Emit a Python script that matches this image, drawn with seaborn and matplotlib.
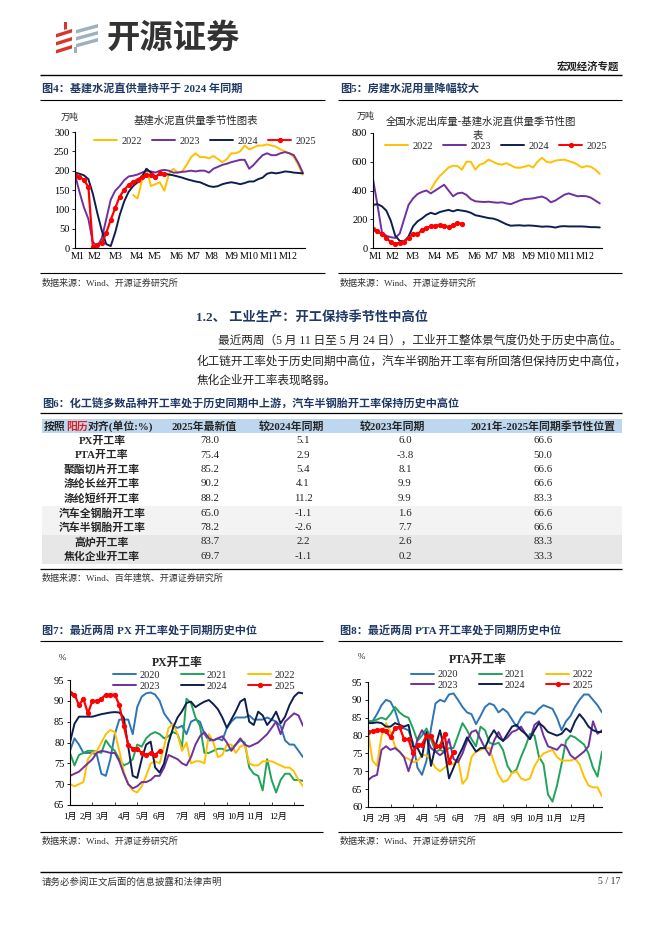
import numpy as np
import seaborn as sns
import matplotlib.pyplot as plt
from matplotlib.lines import Line2D
from matplotlib.patches import Rectangle, Polygon

# ---------------- data ----------------
# weekly series, week index starts at 0 (Jan) unless a start week is given
INFRA_2022_START = 13
INFRA_2022 = [137, 128, 175, 205, 160, 165, 170, 148, 190, 205, 195, 198, 215, 235, 245, 235, 235, 232, 238, 230,
              222, 230, 245, 245, 250, 265, 255, 260, 265, 265, 268, 265, 262, 255, 250, 245, 235, 215, 190]
INFRA_2023 = [190, 145, 105, 75, 15, 5, 25, 75, 125, 148, 160, 175, 185, 187, 190, 195, 200, 198, 195, 200,
              202, 200, 195, 195, 197, 198, 200, 198, 200, 200, 195, 205, 210, 215, 218, 222, 225, 228, 228, 205,
              215, 228, 240, 245, 240, 240, 245, 248, 245, 240, 220, 195]
INFRA_2024 = [195, 192, 188, 178, 140, 90, 45, 10, 5, 40, 85, 120, 145, 160, 170, 185, 205, 195, 185, 190,
              192, 190, 188, 185, 182, 178, 175, 172, 170, 165, 160, 158, 160, 165, 168, 170, 168, 165, 168, 172,
              172, 178, 182, 192, 195, 193, 195, 198, 197, 195, 194, 193]
INFRA_2025 = [188, 184, 176, 158, 2, 9, 13, 39, 73, 103, 133, 150, 163, 171, 177, 184, 189, 189, 184, 193, 191]

PROP_2022_START = 13
PROP_2022 = [405, 460, 500, 530, 560, 572, 570, 545, 600, 600, 545, 580, 590, 615, 600, 585, 580, 590, 575, 560,
             558, 565, 575, 560, 600, 628, 600, 595, 608, 612, 615, 605, 595, 580, 560, 570, 565, 545, 515]
PROP_2023 = [480, 300, 110, 85, 75, 70, 100, 200, 300, 345, 375, 390, 400, 380, 400, 420, 440, 400, 360, 380,
             385, 370, 340, 325, 322, 320, 322, 318, 315, 318, 310, 305, 318, 330, 340, 342, 345, 352, 358, 345,
             318, 330, 350, 370, 380, 370, 360, 362, 360, 350, 330, 310]
PROP_2024 = [300, 305, 290, 260, 190, 85, 50, 45, 80, 150, 185, 205, 230, 245, 235, 250, 258, 265, 255, 265,
             260, 255, 245, 228, 222, 215, 208, 205, 195, 180, 165, 155, 157, 158, 155, 157, 155, 152, 148, 150,
             148, 142, 150, 152, 150, 150, 150, 150, 148, 145, 145, 143]
PROP_2025 = [132, 118, 95, 70, 40, 28, 38, 45, 70, 100, 95, 125, 138, 150, 155, 160, 155, 145, 160, 172, 170]

PX_2020 = [78, 81, 79.5, 77.5, 77.5, 77.5, 77, 72.5, 72, 76, 82, 85.5, 85.5, 85.5, 82, 88.5, 91, 91.8, 92, 91.5,
           90, 87, 85.5, 84, 83.5, 84, 82, 85, 85.5, 85, 82, 80.5, 80.5, 81, 80.5, 83.5, 85, 86, 86, 86,
           86.5, 85.5, 85.5, 85.5, 86, 85.5, 85, 84, 80.5, 79.5, 79.5, 78, 76.5]
PX_2021 = [77.5, 74.5, 77, 77.5, 78, 78, 77.8, 77.5, 80.5, 79, 78, 76, 74.5, 75, 76, 79.5, 79, 81, 82, 82.5,
           82, 81, 81.5, 82.5, 82, 79, 90.5, 89.5, 86, 84, 77.5, 77.5, 78, 78.5, 78.5, 78, 78.5, 79.5, 80.5, 80,
           74, 72.5, 72, 68.5, 76, 71, 68, 71, 72.5, 72.5, 71, 71, 70.8]
PX_2022 = [70, 69.5, 70, 70.5, 76, 77.5, 78, 80, 82, 83, 82.5, 78, 73, 70, 68.5, 68, 69.5, 72, 75, 75.5,
           75, 79, 83.5, 84.5, 82, 78, 80, 75, 75.5, 75.5, 75, 82, 80, 76.5, 77, 79.5, 79.5, 77.5, 79, 79.5,
           75, 74.5, 74.5, 75.5, 75.5, 75.5, 75, 74.5, 74, 74, 73, 71, 69.5]
PX_2023 = [72, 72.5, 73, 74, 75, 76, 77.5, 78, 77.8, 77.5, 77.5, 75.5, 72.5, 70, 69, 69.5, 70.5, 70.5, 71, 72,
           72, 74, 77, 76.5, 76, 75, 74.5, 76.5, 79.5, 81.5, 82.5, 81, 80.5, 81, 81.5, 80, 78, 79.5, 81, 79.5,
           79, 79.5, 80, 81, 82, 83.5, 85, 82, 85, 86, 87, 86.5, 84]
PX_2024 = [80, 84.5, 86.2, 86.2, 86.2, 86.2, 86.5, 86.8, 87, 87.2, 87.3, 87.2, 86, 79, 72, 71.5, 76, 79.5, 80.2, 74,
           72.8, 75, 80, 83.5, 86, 87.5, 89.5, 89.8, 88.5, 89.2, 89.8, 90.2, 89.2, 88, 86, 83.5, 85.5, 87.5, 89.8, 90.5,
           85, 84.2, 87.4, 86.5, 84.2, 85.5, 87.4, 84.6, 86.2, 89, 91, 92, 91.8]
PX_2025 = [92, 91.5, 89, 90.5, 87, 90, 90, 90.5, 91.5, 91.5, 91.5, 89, 84, 79.5, 78.5, 78.5, 77.5, 77, 77.5, 77, 78]

PTA_2020 = [84, 84, 86, 88.5, 90, 89.5, 87, 83, 82, 81.5, 78, 71, 69, 73, 82, 89, 90, 89.5, 91.5, 91.8,
            90, 88, 86.5, 86, 83.2, 85.5, 88, 89, 88.5, 86.5, 87.5, 86.5, 84.5, 82.5, 85, 86.5, 86.5, 86, 87.5, 88.5,
            88, 87.5, 85, 81.5, 84, 85.5, 88, 90, 91.5, 91.5, 90, 88.5, 86.5]
PTA_2021 = [84, 84, 84.5, 85, 84.5, 86, 88, 86.5, 85.5, 85, 82, 78.5, 80, 82, 79, 75.5, 76, 75.5, 76.5, 76.5,
            80, 83.5, 81.5, 79, 77, 82.5, 81.5, 78, 77.5, 78, 76, 71.5, 69.5, 70.5, 74, 77, 80.5, 80, 74, 72,
            63.5, 61.5, 66, 72, 78.5, 80, 79.5, 78.5, 77.5, 75, 71, 68.5, 75.5]
PTA_2022 = [81, 73, 71.5, 80, 83.5, 81, 77, 75.5, 74, 73.5, 72.5, 73, 74.5, 74.5, 73, 71, 70, 71, 72, 72,
            73.5, 66.5, 68, 74, 75.5, 76, 76.5, 76.5, 72.5, 69, 67, 67.5, 69.5, 70, 68, 67.5, 68, 71.5, 73.5, 75,
            75.5, 76, 74, 73, 73, 73, 73.5, 72, 68.5, 66, 65.5, 65.5, 63]
PTA_2023 = [67.5, 68.5, 69, 76, 77, 76, 76.5, 75.5, 74, 70, 74, 79, 81.5, 79.5, 76.5, 75.5, 74.5, 75.5, 79, 73.5,
            72.5, 75, 78.5, 81, 81.5, 79, 76.5, 74.5, 78.5, 81, 78.5, 79.5, 81, 81.5, 82.5, 80.5, 79, 83, 84, 80,
            77, 76.5, 76, 77.5, 77, 74.5, 73.5, 74.5, 75.5, 77, 84, 80.5, 81.5]
PTA_2024 = [83.5, 83.5, 83.7, 83.5, 82.5, 82.5, 83.5, 83, 82.5, 83, 77, 76.5, 74, 81, 71.5, 77, 81.5, 76, 68, 71,
            74, 76.5, 79.5, 77.5, 75.5, 76.5, 76.5, 79.5, 81.5, 79.5, 78.5, 80.5, 82.5, 83, 81.5, 80.5, 79, 81.5, 83.5, 82.5,
            81, 80.5, 80, 80.5, 82, 81, 84, 86, 84.5, 82.5, 81.5, 81, 81]
PTA_2025 = [81, 81.3, 81.5, 81.7, 81.2, 79.5, 82, 82.5, 79, 79, 75, 77.5, 77.5, 80, 80, 77, 77, 80.5, 72.5, 75.5]

MONTHS_M = ['M1', 'M2', 'M3', 'M4', 'M5', 'M6', 'M7', 'M8', 'M9', 'M10', 'M11', 'M12']
MONTHS_CN = ['1月', '2月', '3月', '4月', '5月', '6月', '7月', '8月', '9月', '10月', '11月', '12月']

TABLE_ROWS = ['PX开工率', 'PTA开工率', '聚酯切片开工率', '涤纶长丝开工率', '涤纶短纤开工率',
              '汽车全钢胎开工率', '汽车半钢胎开工率', '高炉开工率', '焦化企业开工率']
LATEST = [78.0, 75.4, 85.2, 90.2, 88.2, 65.0, 78.2, 83.7, 69.7]
VS_2024 = [5.1, 2.9, 5.4, 4.1, 11.2, -1.1, -2.6, 2.2, -1.1]
VS_2023 = [6.0, -3.8, 8.1, 9.9, 9.9, 1.6, 7.7, 2.6, 0.2]
POSITION = [66.6, 50.0, 66.6, 66.6, 83.3, 66.6, 66.6, 83.3, 33.3]

# ---------------- style ----------------
sns.set_theme(style='white')
SERIF_CJK = ['Liberation Serif', 'Noto Sans CJK SC', 'DejaVu Sans']
CJK = ['Noto Sans CJK SC', 'DejaVu Sans']
plt.rcParams['font.family'] = SERIF_CJK
plt.rcParams['axes.unicode_minus'] = False

W, H = 662, 936
NAVY_TXT = '#1F3864'
C_GOLD = '#FFC000'
C_PURPLE = '#7030A0'
C_NAVY = '#0D1F4F'
C_RED = '#FF0000'
C_BLUE = '#2E75B6'
C_GREEN = '#22A35A'

fig = plt.figure(figsize=(W / 100, H / 100), dpi=100)
page = fig.add_axes([0, 0, 1, 1])
page.set_xlim(0, W)
page.set_ylim(H, 0)
page.axis('off')


def px_axes(x0, y0, x1, y1):
    return fig.add_axes([x0 / W, 1 - y1 / H, (x1 - x0) / W, (y1 - y0) / H])


def rule(x0, x1, y, lw=0.9, color='black'):
    page.plot([x0, x1], [y, y], color=color, lw=lw, solid_capstyle='butt')


def txt(x, y, s, size=8, **kw):
    kw.setdefault('va', 'center')
    kw.setdefault('family', SERIF_CJK)
    page.text(x, y, s, fontsize=size, **kw)


def draw_series(ax, values, color, start=0, marker=None, lw=1.4):
    weeks = np.arange(len(values)) + start
    extra = {}
    if marker:
        extra = dict(marker=marker, markersize=3.8, markeredgewidth=0)
    sns.lineplot(x=weeks, y=values, ax=ax, color=color, lw=lw, **extra)


def style_axes(ax, xlim, ylim, yticks, xpos, xlabels, xticks=None, xsize=7.5):
    ax.set_xlim(*xlim)
    ax.set_ylim(*ylim)
    ax.set_yticks(yticks)
    ax.set_xticks(xpos)
    ax.set_xticklabels(xlabels, family=SERIF_CJK)
    ax.tick_params(axis='x', which='major', length=0, pad=3, labelsize=xsize, colors='black')
    ax.tick_params(axis='y', length=2.5, width=0.6, direction='out', pad=1.5, labelsize=7.5,
                   left=True, colors='black')
    if xticks is not None:
        ax.set_xticks(xticks, minor=True)
        ax.tick_params(axis='x', which='minor', length=2.5, width=0.6, direction='in', bottom=True)
    sns.despine(ax=ax)
    for s in ['left', 'bottom']:
        ax.spines[s].set_color('black')
        ax.spines[s].set_linewidth(0.8)
    ax.set_xlabel('')
    ax.set_ylabel('')
    ax.patch.set_alpha(0)


def handle(color, marker=None):
    return Line2D([], [], color=color, lw=1.4, marker=marker, markersize=3.8, markeredgewidth=0)


# ---------------- header ----------------
for yc in [31, 39, 47]:
    page.add_patch(Polygon([[56, yc + 3], [72, yc - 2], [72, yc + 1.5], [56, yc + 6.5]], closed=True,
                           color='#D9352C', lw=0))
for yc in [26, 33, 40]:
    page.add_patch(Polygon([[76, yc + 4], [98, yc - 2], [98, yc + 1.5], [76, yc + 7.5]], closed=True,
                           color='#9DB0BE', lw=0))
page.add_patch(Polygon([[64, 22], [67, 22], [67, 29], [64, 30]], closed=True, color='#D9352C', lw=0))
page.add_patch(Polygon([[74, 47], [77, 47], [77, 53], [74, 53]], closed=True, color='#9DB0BE', lw=0))
txt(107, 38, '开源证券', size=24, weight='bold', color='#333333', family=CJK)
txt(619, 67, '宏观经济专题', size=7.5, weight='bold', color='#222222', ha='right', family=CJK)
rule(40, 622, 75, lw=1.0)

# ---------------- figure 4 / 5 ----------------
txt(42, 88, '图4：基建水泥直供量持平于 2024 年同期', size=8, weight='bold', color=NAVY_TXT)
rule(40, 325, 100, lw=0.8)
txt(340, 88, '图5：房建水泥用量降幅较大', size=8, weight='bold', color=NAVY_TXT)
rule(338, 622, 100, lw=0.8)

MONTH_POS_M = [0.6, 4.3, 9.0, 13.9, 17.9, 22.8, 26.6, 30.6, 35.0, 38.9, 43.4, 47.7]

ax4 = px_axes(75, 132, 305, 248)
draw_series(ax4, INFRA_2022, C_GOLD, start=INFRA_2022_START)
draw_series(ax4, INFRA_2023, C_PURPLE)
draw_series(ax4, INFRA_2024, C_NAVY)
draw_series(ax4, INFRA_2025, C_RED, marker='o', lw=1.6)
style_axes(ax4, (0, 51.5), (0, 300), range(0, 301, 50), MONTH_POS_M, MONTHS_M, xsize=7.2)
txt(196, 121, '基建水泥直供量季节性图表', size=7.5, ha='center', family=CJK)
txt(70, 117, '万吨', size=6.5, ha='center', family=CJK)
ax4.legend([handle(C_GOLD), handle(C_PURPLE), handle(C_NAVY), handle(C_RED, 'o')],
           ['2022', '2023', '2024', '2025'], ncol=4, loc='center', bbox_to_anchor=(205, 141),
           bbox_transform=page.transData, frameon=False, fontsize=7.5, handlelength=2.2,
           handletextpad=0.4, columnspacing=1.0)
rule(40, 325, 273, lw=0.8)
txt(42, 283, '数据来源：Wind、开源证券研究所', size=6.5, color='#333333')

ax5 = px_axes(373, 133, 602, 248)
draw_series(ax5, PROP_2022, C_GOLD, start=PROP_2022_START)
draw_series(ax5, PROP_2023, C_PURPLE)
draw_series(ax5, PROP_2024, C_NAVY)
draw_series(ax5, PROP_2025, C_RED, marker='o', lw=1.6)
style_axes(ax5, (0, 51.5), (0, 800), range(0, 801, 200), MONTH_POS_M, MONTHS_M, xsize=7.2)
txt(481, 122, '全国水泥出库量-基建水泥直供量季节性图', size=7.5, ha='center', family=CJK)
txt(478, 135, '表', size=7.5, ha='center', family=CJK)
txt(366, 116, '万吨', size=6.5, ha='center', family=CJK)
ax5.legend([handle(C_GOLD), handle(C_PURPLE), handle(C_NAVY), handle(C_RED, 'o')],
           ['2022', '2023', '2024', '2025'], ncol=4, loc='center', bbox_to_anchor=(496, 146),
           bbox_transform=page.transData, frameon=False, fontsize=7.5, handlelength=2.2,
           handletextpad=0.4, columnspacing=1.0)
rule(338, 622, 273, lw=0.8)
txt(340, 283, '数据来源：Wind、开源证券研究所', size=6.5, color='#333333')

# ---------------- section text ----------------
txt(196, 318, '1.2、 工业生产：开工保持季节性中高位', size=9.5, weight='bold', color=NAVY_TXT)
line1 = '最近两周（5 月 11 日至 5 月 24 日），工业开工整体景气度仍处于历史中高位。'
txt(218, 341, line1, size=8.4, color='#222222')
rule(218, 620, 348.5, lw=0.6, color='#444444')
txt(197, 362, '化工链开工率处于历史同期中高位，汽车半钢胎开工率有所回落但保持历史中高位，', size=8.4,
    color='#222222')
txt(197, 381, '焦化企业开工率表现略弱。', size=8.4, color='#222222')

# ---------------- table ----------------
txt(42, 404, '图6：化工链多数品种开工率处于历史同期中上游，汽车半钢胎开工率保持历史中高位', size=8,
    weight='bold', color=NAVY_TXT)
rule(40, 622, 413, lw=0.9)
page.add_patch(Rectangle((42, 419), 580, 14.5, color='#BDD7EE', lw=0))
txt(44, 426.5, '按照', size=7.8, weight='bold')
txt(66, 426.5, '阳历', size=7.8, weight='bold', color='#E02020')
txt(88, 426.5, '对齐(单位:%)', size=7.8, weight='bold')
txt(237, 426.5, '2025年最新值', size=7.8, weight='bold', ha='right')
txt(291, 426.5, '较2024年同期', size=7.8, weight='bold', ha='center')
txt(392, 426.5, '较2023年同期', size=7.8, weight='bold', ha='center')
txt(543, 426.5, '2021年-2025年同期季节性位置', size=7.8, weight='bold', ha='center')

ROW_BG = ['white'] * 5 + ['#F3F3F3'] * 2 + ['#E7E7E7'] * 2
for i, name in enumerate(TABLE_ROWS):
    yc = 440.5 + i * 14.5
    page.add_patch(Rectangle((42, yc - 7.25), 580, 14.5, color=ROW_BG[i], lw=0))
    txt(102, yc, name, size=7.8, weight='bold', ha='center')
    txt(210, yc, f'{LATEST[i]:.1f}', size=7.8, ha='center', color='#222222')
    txt(303, yc, f'{VS_2024[i]:.1f}', size=7.8, ha='center', color='#222222')
    txt(405, yc, f'{VS_2023[i]:.1f}', size=7.8, ha='center', color='#222222')
    txt(543, yc, f'{POSITION[i]:.1f}', size=7.8, ha='center', color='#222222')
rule(40, 622, 569, lw=0.9)
txt(42, 578, '数据来源：Wind、百年建筑、开源证券研究所', size=6.5, color='#333333')

# ---------------- figure 7 / 8 ----------------
txt(42, 630, '图7：最近两周 PX 开工率处于同期历史中位', size=8, weight='bold', color=NAVY_TXT)
rule(40, 323, 641, lw=0.8)
txt(340, 630, '图8：最近两周 PTA 开工率处于同期历史中位', size=8, weight='bold', color=NAVY_TXT)
rule(338, 622, 641, lw=0.8)

MONTH_POS_CN = [0, 3.7, 7.2, 12.1, 16.1, 20.0, 25.0, 29.1, 33.3, 37.2, 41.4, 46.5]
WEEK_TICKS = list(range(0, 51, 5))
YEAR_HANDLES = [handle(C_BLUE), handle(C_PURPLE), handle(C_GREEN), handle(C_NAVY),
                handle(C_GOLD), handle(C_RED, 'o')]
YEAR_LABELS = ['2020', '2023', '2021', '2024', '2022', '2025']

ax7 = px_axes(70, 680, 303, 805)
for vals, c in [(PX_2020, C_BLUE), (PX_2021, C_GREEN), (PX_2022, C_GOLD), (PX_2023, C_PURPLE),
                (PX_2024, C_NAVY)]:
    draw_series(ax7, vals, c)
draw_series(ax7, PX_2025, C_RED, marker='o', lw=1.6)
style_axes(ax7, (0, 52), (65, 95), range(65, 96, 5), MONTH_POS_CN, MONTHS_CN, xticks=WEEK_TICKS, xsize=6.5)
ax7.tick_params(axis='x', pad=6)
txt(177, 663, 'PX开工率', size=8.5, weight='bold', ha='center')
txt(62, 658, '%', size=6.5, ha='center')
ax7.legend(YEAR_HANDLES, YEAR_LABELS, ncol=3, loc='center', bbox_to_anchor=(204, 680.5),
           bbox_transform=page.transData, frameon=False, fontsize=7.5, handlelength=2.2,
           handletextpad=0.3, columnspacing=2.0, labelspacing=0.15)
rule(40, 323, 832, lw=0.8)
txt(42, 841, '数据来源：Wind、开源证券研究所', size=6.5, color='#333333')

ax8 = px_axes(368, 682, 602, 807)
for vals, c in [(PTA_2020, C_BLUE), (PTA_2021, C_GREEN), (PTA_2022, C_GOLD), (PTA_2023, C_PURPLE),
                (PTA_2024, C_NAVY)]:
    draw_series(ax8, vals, c)
draw_series(ax8, PTA_2025, C_RED, marker='o', lw=1.6)
style_axes(ax8, (0, 52), (60, 95), range(60, 96, 5), MONTH_POS_CN, MONTHS_CN, xticks=WEEK_TICKS, xsize=6.5)
ax8.tick_params(axis='x', pad=6)
txt(478, 660, 'PTA开工率', size=8.5, weight='bold', ha='center')
txt(361, 657, '%', size=6.5, ha='center')
ax8.legend(YEAR_HANDLES, YEAR_LABELS, ncol=3, loc='center', bbox_to_anchor=(502, 680),
           bbox_transform=page.transData, frameon=False, fontsize=7.5, handlelength=2.2,
           handletextpad=0.3, columnspacing=2.0, labelspacing=0.15)
rule(338, 622, 832, lw=0.8)
txt(340, 841, '数据来源：Wind、开源证券研究所', size=6.5, color='#333333')

# ---------------- footer ----------------
rule(40, 622, 872, lw=1.0)
txt(42, 882, '请务必参阅正文后面的信息披露和法律声明', size=6.8, color='#333333')
txt(620, 882, '5 / 17', size=7, ha='right', color='#333333')

fig.savefig('out.png', dpi=100)
